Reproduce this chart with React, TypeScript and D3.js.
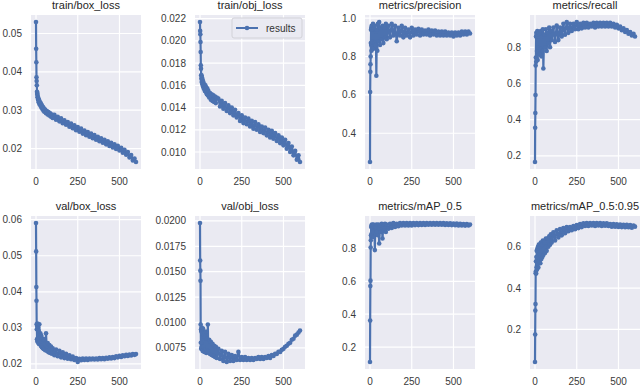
import React, { useEffect, useRef } from "react";
import * as d3 from "d3";

// epochs sampled from the training log
const epochs = [
  0, 1, 2, 3, 4, 5, 6, 7, 8, 9, 10,
  12, 14, 16, 18, 20,
  23, 26, 29, 32, 35, 38, 41, 44, 47, 50,
  55, 60, 65, 70, 75, 80, 85, 90, 95, 100,
  110, 120, 130, 140, 150, 160, 170, 180, 190, 200,
  210, 220, 230, 240, 250, 260, 270, 280, 290, 300,
  310, 320, 330, 340, 350, 360, 370, 380, 390, 400,
  410, 420, 430, 440, 450, 460, 470, 480, 490, 500,
  510, 520, 530, 540, 550, 560, 570, 580, 590, 599,
];

const trainBoxLoss = [
  0.0530, 0.0460, 0.0425, 0.0386, 0.0376, 0.0365, 0.0348, 0.0342, 0.0345, 0.0334, 0.0338,
  0.0327, 0.0332, 0.0321, 0.0327, 0.0316,
  0.0322, 0.0312, 0.0318, 0.0307, 0.0313, 0.0303, 0.0309, 0.0299, 0.0305, 0.0296,
  0.0302, 0.0292, 0.0298, 0.0289, 0.0295, 0.0286, 0.0292, 0.0283, 0.0289, 0.0280,
  0.0288, 0.0275, 0.0283, 0.0271, 0.0279, 0.0266, 0.0274, 0.0262, 0.0269, 0.0257,
  0.0265, 0.0253, 0.0261, 0.0248, 0.0256, 0.0244, 0.0252, 0.0239, 0.0247, 0.0235,
  0.0243, 0.0231, 0.0239, 0.0227, 0.0235, 0.0223, 0.0231, 0.0219, 0.0227, 0.0215,
  0.0223, 0.0211, 0.0219, 0.0207, 0.0215, 0.0203, 0.0211, 0.0199, 0.0207, 0.0195,
  0.0202, 0.0189, 0.0197, 0.0184, 0.0191, 0.0177, 0.0183, 0.0169, 0.0174, 0.0165,
];

const trainObjLoss = [
  0.0217, 0.0209, 0.0206, 0.0199, 0.0190, 0.0178, 0.0175, 0.0169, 0.0166, 0.0169, 0.0163,
  0.0167, 0.0161, 0.0165, 0.0159, 0.0163,
  0.0157, 0.0161, 0.0155, 0.0160, 0.0154, 0.0158, 0.0152, 0.0157, 0.0151, 0.0155,
  0.0149, 0.0153, 0.0147, 0.0152, 0.0146, 0.0151, 0.0145, 0.0150, 0.0144, 0.0149,
  0.0148, 0.0141, 0.0146, 0.0139, 0.0144, 0.0137, 0.0142, 0.0135, 0.0140, 0.0133,
  0.0138, 0.0131, 0.0135, 0.0128, 0.0133, 0.0126, 0.0131, 0.0125, 0.0130, 0.0123,
  0.0128, 0.0121, 0.0127, 0.0120, 0.0125, 0.0118, 0.0123, 0.0117, 0.0122, 0.0115,
  0.0120, 0.0113, 0.0119, 0.0112, 0.0117, 0.0110, 0.0115, 0.0108, 0.0113, 0.0106,
  0.0111, 0.0103, 0.0108, 0.0100, 0.0105, 0.0097, 0.0101, 0.0093, 0.0097, 0.0091,
];

const precision = [
  0.25, 0.615, 0.72, 0.76, 0.80, 0.87, 0.94, 0.86, 0.95, 0.83, 0.96,
  0.85, 0.94, 0.88, 0.97, 0.84,
  0.95, 0.87, 0.96, 0.86, 0.93, 0.70, 0.94, 0.83, 0.97, 0.88,
  0.98, 0.86, 0.95, 0.89, 0.96, 0.87, 0.95, 0.90, 0.97, 0.89,
  0.96, 0.90, 0.97, 0.91, 0.96, 0.88, 0.95, 0.91, 0.96, 0.90,
  0.95, 0.91, 0.94, 0.90, 0.95, 0.91, 0.94, 0.915, 0.945, 0.91,
  0.94, 0.915, 0.935, 0.915, 0.94, 0.91, 0.935, 0.915, 0.935, 0.91,
  0.93, 0.91, 0.93, 0.91, 0.93, 0.91, 0.925, 0.91, 0.925, 0.905,
  0.925, 0.91, 0.925, 0.91, 0.93, 0.915, 0.93, 0.915, 0.93, 0.92,
];

const recall = [
  0.166, 0.355, 0.437, 0.536, 0.70, 0.744, 0.86, 0.72, 0.88, 0.74, 0.87,
  0.78, 0.89, 0.73, 0.86, 0.80,
  0.88, 0.76, 0.87, 0.79, 0.89, 0.75, 0.86, 0.78, 0.90, 0.683,
  0.87, 0.80, 0.90, 0.78, 0.88, 0.82, 0.91, 0.80, 0.89, 0.84,
  0.91, 0.83, 0.92, 0.84, 0.91, 0.86, 0.93, 0.87, 0.94, 0.88,
  0.93, 0.89, 0.93, 0.90, 0.94, 0.90, 0.93, 0.905, 0.935, 0.91,
  0.935, 0.91, 0.93, 0.915, 0.935, 0.91, 0.935, 0.915, 0.935, 0.915,
  0.935, 0.915, 0.935, 0.915, 0.935, 0.915, 0.93, 0.91, 0.925, 0.905,
  0.915, 0.895, 0.905, 0.885, 0.895, 0.875, 0.885, 0.865, 0.875, 0.86,
];

const valBoxLoss = [
  0.0591, 0.0512, 0.0413, 0.0375, 0.0310, 0.0296, 0.0268, 0.0305, 0.0262, 0.0312, 0.0270,
  0.0300, 0.0258, 0.0292, 0.0255, 0.0310,
  0.0262, 0.0285, 0.0250, 0.0278, 0.0246, 0.0270, 0.0243, 0.0265, 0.0241, 0.0268,
  0.0238, 0.0285, 0.0236, 0.0258, 0.0232, 0.0252, 0.0230, 0.0248, 0.0228, 0.0243,
  0.0224, 0.0240, 0.0221, 0.0236, 0.0218, 0.0232, 0.0216, 0.0228, 0.0214, 0.0224,
  0.0213, 0.0220, 0.0211, 0.0216, 0.0205, 0.0214, 0.0210, 0.0215, 0.0211, 0.0215,
  0.0211, 0.0215, 0.0212, 0.0215, 0.0212, 0.0215, 0.0212, 0.0216, 0.0213, 0.0216,
  0.0213, 0.0217, 0.0214, 0.0218, 0.0215, 0.0219, 0.0216, 0.0221, 0.0218, 0.0222,
  0.0219, 0.0224, 0.0221, 0.0225, 0.0222, 0.0226, 0.0223, 0.0227, 0.0225, 0.0227,
];

const valObjLoss = [
  0.0198, 0.0161, 0.0151, 0.0141, 0.0098, 0.0080, 0.0093, 0.0074, 0.0091, 0.0076, 0.0095,
  0.0075, 0.0089, 0.0072, 0.0094, 0.0076,
  0.0088, 0.0071, 0.0086, 0.0073, 0.0091, 0.0070, 0.0084, 0.0072, 0.0098, 0.0071,
  0.0083, 0.0069, 0.0081, 0.0068, 0.0079, 0.0067, 0.0077, 0.0066, 0.0076, 0.0065,
  0.0074, 0.0064, 0.0072, 0.0062, 0.0071, 0.0061, 0.0069, 0.0062, 0.0068, 0.0062,
  0.0067, 0.0063, 0.0071, 0.0063, 0.0066, 0.0063, 0.0066, 0.0063, 0.0065, 0.0063,
  0.0065, 0.0063, 0.0065, 0.0064, 0.0066, 0.0064, 0.0066, 0.0064, 0.0066, 0.0065,
  0.0067, 0.0065, 0.0068, 0.0067, 0.0069, 0.0069, 0.0071, 0.0071, 0.0073, 0.0074,
  0.0076, 0.0077, 0.0079, 0.0080, 0.0083, 0.0084, 0.0087, 0.0088, 0.0090, 0.0092,
];

const map50 = [
  0.109, 0.361, 0.571, 0.604, 0.806, 0.85, 0.88, 0.93, 0.87, 0.94, 0.89,
  0.945, 0.88, 0.94, 0.90, 0.945,
  0.87, 0.94, 0.79, 0.93, 0.89, 0.945, 0.90, 0.94, 0.88, 0.945,
  0.83, 0.94, 0.90, 0.95, 0.86, 0.945, 0.91, 0.95, 0.90, 0.945,
  0.92, 0.95, 0.925, 0.955, 0.93, 0.95, 0.935, 0.955, 0.94, 0.955,
  0.94, 0.955, 0.94, 0.955, 0.94, 0.955, 0.942, 0.955, 0.942, 0.955,
  0.943, 0.955, 0.943, 0.954, 0.944, 0.955, 0.944, 0.954, 0.944, 0.955,
  0.944, 0.954, 0.944, 0.954, 0.943, 0.953, 0.943, 0.953, 0.942, 0.952,
  0.941, 0.951, 0.940, 0.950, 0.940, 0.949, 0.939, 0.948, 0.940, 0.945,
];

const map5095 = [
  0.042, 0.175, 0.291, 0.323, 0.472, 0.48, 0.53, 0.47, 0.55, 0.50, 0.58,
  0.49, 0.59, 0.52, 0.60, 0.50,
  0.61, 0.53, 0.60, 0.52, 0.62, 0.54, 0.61, 0.55, 0.63, 0.56,
  0.62, 0.57, 0.64, 0.58, 0.64, 0.60, 0.65, 0.61, 0.66, 0.62,
  0.67, 0.63, 0.68, 0.645, 0.685, 0.655, 0.69, 0.665, 0.695, 0.675,
  0.695, 0.68, 0.70, 0.685, 0.705, 0.69, 0.71, 0.695, 0.713, 0.70,
  0.715, 0.70, 0.714, 0.703, 0.715, 0.70, 0.714, 0.703, 0.715, 0.70,
  0.713, 0.702, 0.713, 0.70, 0.71, 0.697, 0.71, 0.697, 0.708, 0.696,
  0.707, 0.695, 0.706, 0.694, 0.706, 0.694, 0.705, 0.692, 0.703, 0.697,
];

const titles = [
  "train/box_loss", "train/obj_loss", "metrics/precision", "metrics/recall",
  "val/box_loss", "val/obj_loss", "metrics/mAP_0.5", "metrics/mAP_0.5:0.95",
];
const xTicks = [0, 250, 500];
const trainBoxTicks = [0.02, 0.03, 0.04, 0.05];
const trainObjTicks = [0.01, 0.012, 0.014, 0.016, 0.018, 0.02, 0.022];
const precisionTicks = [0.4, 0.6, 0.8, 1.0];
const recallTicks = [0.2, 0.4, 0.6, 0.8];
const valBoxTicks = [0.02, 0.03, 0.04, 0.05, 0.06];
const valObjTicks = [0.0075, 0.01, 0.0125, 0.015, 0.0175, 0.02];
const map50Ticks = [0.2, 0.4, 0.6, 0.8];
const map5095Ticks = [0.2, 0.4, 0.6];

const series = [trainBoxLoss, trainObjLoss, precision, recall, valBoxLoss, valObjLoss, map50, map5095];
const yTicks = [trainBoxTicks, trainObjTicks, precisionTicks, recallTicks, valBoxTicks, valObjTicks, map50Ticks, map5095Ticks];
const yFormats = [".2f", ".3f", ".1f", ".1f", ".2f", ".4f", ".1f", ".1f"];

const BLUE = "#4C72B0";
const BG = "#EAEAF2";
const FONT = "'Liberation Sans', Arial, Helvetica, sans-serif";

export default function App() {
  const ref = useRef<SVGSVGElement>(null);

  useEffect(() => {
    const svg = d3.select(ref.current);
    svg.selectAll("*").remove();

    const colLeft = [31, 195, 365, 530];
    const panelWidth = 110;
    const rowTop = [15, 216];
    const rowBottom = [169, 369];

    const [xMin, xMax] = d3.extent(epochs) as [number, number];
    const xPad = (xMax - xMin) * 0.05;

    series.forEach((values, i) => {
      const col = i % 4;
      const row = Math.floor(i / 4);
      const left = colLeft[col];
      const right = left + panelWidth;
      const top = rowTop[row];
      const bottom = rowBottom[row];

      const [yMin, yMax] = d3.extent(values) as [number, number];
      const yPad = (yMax - yMin) * 0.05;

      const xScale = d3.scaleLinear().domain([xMin - xPad, xMax + xPad]).range([left, right]);
      const yScale = d3.scaleLinear().domain([yMin - yPad, yMax + yPad]).range([bottom, top]);

      const g = svg.append("g");

      g.append("rect")
        .attr("x", left)
        .attr("y", top)
        .attr("width", right - left)
        .attr("height", bottom - top)
        .attr("fill", BG);

      // grid
      g.selectAll(".vgrid")
        .data(xTicks)
        .join("line")
        .attr("x1", (d) => xScale(d))
        .attr("x2", (d) => xScale(d))
        .attr("y1", top)
        .attr("y2", bottom)
        .attr("stroke", "#fff")
        .attr("stroke-width", 1.2);

      g.selectAll(".hgrid")
        .data(yTicks[i])
        .join("line")
        .attr("x1", left)
        .attr("x2", right)
        .attr("y1", (d) => yScale(d))
        .attr("y2", (d) => yScale(d))
        .attr("stroke", "#fff")
        .attr("stroke-width", 1.2);

      // tick labels
      const fmt = d3.format(yFormats[i]);
      g.selectAll(".ylab")
        .data(yTicks[i])
        .join("text")
        .attr("x", left - 9)
        .attr("y", (d) => yScale(d) + 3.5)
        .attr("text-anchor", "end")
        .attr("font-family", FONT)
        .attr("font-size", 10)
        .attr("fill", "#3a3a3a")
        .text((d) => fmt(d));

      g.selectAll(".xlab")
        .data(xTicks)
        .join("text")
        .attr("x", (d) => xScale(d))
        .attr("y", bottom + 16)
        .attr("text-anchor", "middle")
        .attr("font-family", FONT)
        .attr("font-size", 10)
        .attr("fill", "#3a3a3a")
        .text((d) => String(d));

      g.append("text")
        .attr("x", (left + right) / 2)
        .attr("y", top - 6)
        .attr("text-anchor", "middle")
        .attr("font-family", FONT)
        .attr("font-size", 11)
        .attr("fill", "#262626")
        .text(titles[i]);

      // data line + dot markers
      const line = d3
        .line<number>()
        .x((_, k) => xScale(epochs[k]))
        .y((d) => yScale(d));

      g.append("path")
        .attr("d", line(values))
        .attr("fill", "none")
        .attr("stroke", BLUE)
        .attr("stroke-width", 2.2)
        .attr("stroke-linejoin", "round");

      g.selectAll(".dot")
        .data(values)
        .join("circle")
        .attr("cx", (_, k) => xScale(epochs[k]))
        .attr("cy", (d) => yScale(d))
        .attr("r", 2.3)
        .attr("fill", BLUE);

      if (i === 1) {
        const lx = right - 73;
        const ly = top + 3;
        g.append("rect")
          .attr("x", lx)
          .attr("y", ly)
          .attr("width", 70)
          .attr("height", 20)
          .attr("rx", 2)
          .attr("fill", BG)
          .attr("fill-opacity", 0.85)
          .attr("stroke", "#d2d2d8");
        g.append("line")
          .attr("x1", lx + 4)
          .attr("x2", lx + 26)
          .attr("y1", ly + 10)
          .attr("y2", ly + 10)
          .attr("stroke", BLUE)
          .attr("stroke-width", 2);
        g.append("circle").attr("cx", lx + 15).attr("cy", ly + 10).attr("r", 2.3).attr("fill", BLUE);
        g.append("text")
          .attr("x", lx + 34)
          .attr("y", ly + 14)
          .attr("font-family", FONT)
          .attr("font-size", 10)
          .attr("fill", "#333")
          .text("results");
      }
    });
  }, []);

  return (
    <svg
      ref={ref}
      width={640}
      height={387}
      style={{ position: "absolute", left: 0, top: 0, display: "block", background: "#fff" }}
    />
  );
}
